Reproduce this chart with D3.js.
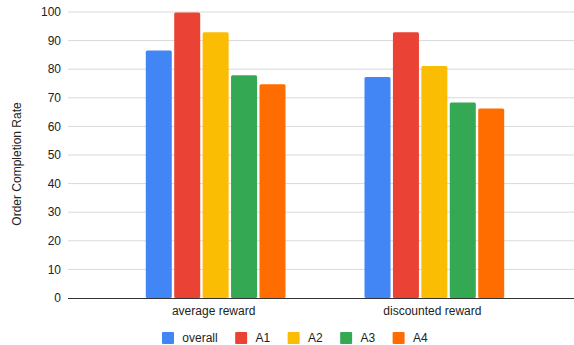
<!DOCTYPE html>
<html>
<head>
<meta charset="utf-8">
<script src="https://cdn.jsdelivr.net/npm/d3@7"></script>
<style>
  html, body { margin: 0; padding: 0; background: #fff; }
  svg { display: block; font-family: "Liberation Sans", Arial, sans-serif; }
</style>
</head>
<body>
<svg id="chart" width="574" height="345"></svg>
<script>
// Reward types on the x axis
const categories = ["average reward", "discounted reward"];
// Series shown in each group
const seriesNames = ["overall", "A1", "A2", "A3", "A4"];
const seriesColors = ["#4285F4", "#EA4335", "#FBBC04", "#34A853", "#FF6D01"];
// Order completion rate per series, one array per reward type
const averageReward = [86.5, 99.8, 92.9, 77.9, 74.7];
const discountedReward = [77.3, 92.9, 81.1, 68.4, 66.3];
// Y axis ticks
const yTicks = [0, 10, 20, 30, 40, 50, 60, 70, 80, 90, 100];

const valuesByCategory = [averageReward, discountedReward];

const svg = d3.select("#chart");
const W = 574, H = 345;
const plot = { left: 68, right: 582, top: 12, bottom: 298 };

const x0 = d3.scaleBand()
  .domain(categories)
  .range([plot.left, plot.right])
  .paddingInner(0)
  .paddingOuter(0.175);

const x1 = d3.scaleBand()
  .domain(seriesNames)
  .range([0, x0.bandwidth()])
  .paddingInner(0.085)
  .paddingOuter(1.39);

const y = d3.scaleLinear().domain([0, 100]).range([plot.bottom, plot.top]);

// Horizontal gridlines
svg.append("g")
  .selectAll("line")
  .data(yTicks.filter(t => t !== 0))
  .join("line")
  .attr("x1", plot.left)
  .attr("x2", W)
  .attr("y1", d => y(d))
  .attr("y2", d => y(d))
  .attr("stroke", "#d9d9d9")
  .attr("stroke-width", 1);

// Y tick labels
svg.append("g")
  .selectAll("text")
  .data(yTicks)
  .join("text")
  .attr("x", plot.left - 7)
  .attr("y", d => y(d))
  .attr("dy", "0.35em")
  .attr("text-anchor", "end")
  .attr("font-size", 12)
  .attr("fill", "#222")
  .text(d => d);

// Bars
const groups = svg.append("g")
  .selectAll("g")
  .data(categories)
  .join("g")
  .attr("transform", d => `translate(${x0(d)},0)`);

groups.selectAll("rect")
  .data((d, i) => valuesByCategory[i].map((v, j) => ({ name: seriesNames[j], value: v, color: seriesColors[j] })))
  .join("rect")
  .attr("x", d => x1(d.name))
  .attr("y", d => y(d.value))
  .attr("width", x1.bandwidth())
  .attr("height", d => y(0) - y(d.value))
  .attr("rx", 1.5)
  .attr("fill", d => d.color);

// Baseline
svg.append("line")
  .attr("x1", plot.left)
  .attr("x2", W)
  .attr("y1", y(0) + 0.5)
  .attr("y2", y(0) + 0.5)
  .attr("stroke", "#333")
  .attr("stroke-width", 1.2);

// Category labels
svg.append("g")
  .selectAll("text")
  .data(categories)
  .join("text")
  .attr("x", d => x0(d) + x0.bandwidth() / 2 - 2)
  .attr("y", 315)
  .attr("text-anchor", "middle")
  .attr("font-size", 12)
  .attr("fill", "#222")
  .text(d => d);

// Y axis title
svg.append("text")
  .attr("transform", "translate(20.5,164) rotate(-90)")
  .attr("text-anchor", "middle")
  .attr("font-size", 12)
  .attr("fill", "#222")
  .text("Order Completion Rate");

// Legend
const legend = svg.append("g");
const items = legend.selectAll("g")
  .data(seriesNames)
  .join("g");
items.append("rect")
  .attr("width", 12)
  .attr("height", 12)
  .attr("rx", 1)
  .attr("y", 332)
  .attr("fill", (d, i) => seriesColors[i]);
items.append("text")
  .attr("x", 20.3)
  .attr("y", 338)
  .attr("dy", "0.35em")
  .attr("font-size", 12)
  .attr("fill", "#222")
  .text(d => d);

let cursor = 162;
const offsets = [];
items.each(function () {
  const tw = d3.select(this).select("text").node().getComputedTextLength();
  offsets.push(cursor);
  cursor += 20.3 + tw + 17.5;
});
items.attr("transform", (d, i) => `translate(${offsets[i]},0)`);
</script>
</body>
</html>
